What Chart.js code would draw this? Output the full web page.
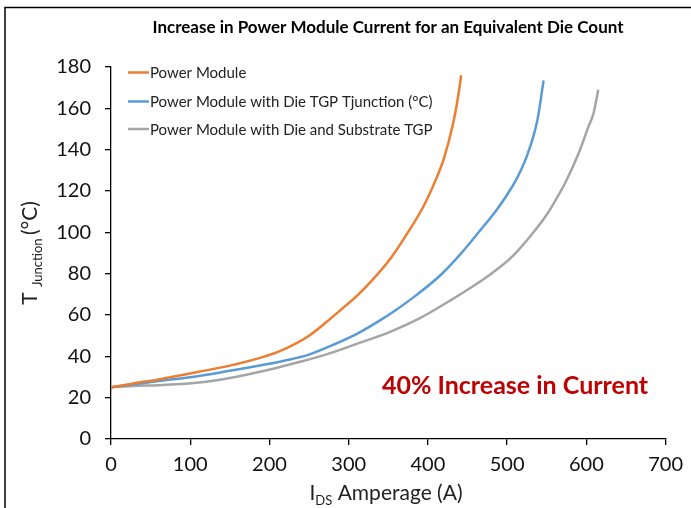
<!DOCTYPE html>
<html>
<head>
<meta charset="utf-8">
<script src="https://cdn.jsdelivr.net/npm/chart.js@4.4.0/dist/chart.umd.min.js"></script>
<style>
  body { margin: 0; background: #fff; }
  canvas { display: block; }
</style>
</head>
<body>
<canvas id="myChart" width="691" height="508"></canvas>
<script>
// chart data
const seriesNames = ['Power Module', 'Power Module with Die TGP Tjunction (°C)', 'Power Module with Die and Substrate TGP'];
const seriesColors = ['#ED7D31', '#5B9BD5', '#A5A5A5'];

const moduleAmps = [0, 30, 60, 111, 150, 186, 210, 230, 250, 270, 290, 311, 330, 353, 374, 395, 410, 420, 432, 438, 442];
const moduleTemp = [25, 27, 28.8, 32.5, 35.5, 39, 42, 45.5, 50, 56, 62.5, 69.5, 77, 87.5, 99.5, 113, 125.5, 135.5, 153, 165.5, 176];

const dieAmps = [0, 30, 60, 111, 150, 186, 220, 249, 280, 311, 340, 361, 385, 415, 440, 465, 485, 497, 510, 524, 538, 546];
const dieTemp = [25, 26.5, 28, 30.5, 33, 35.4, 38, 40.7, 45.5, 51, 57.5, 62.8, 69.5, 79, 89, 100.5, 110, 116.5, 124.5, 136, 154, 173.5];

const substrateAmps = [0, 28, 60, 111, 150, 199, 235, 270, 310, 353, 390, 415, 445, 480, 507, 530, 549, 561, 574, 590, 603, 609, 615];
const substrateTemp = [25, 25.7, 26, 27.3, 29.5, 33.5, 37, 40.7, 46, 52, 58.5, 64, 71, 80, 88.5, 98.5, 108, 115.5, 124.5, 138, 151.5, 157.5, 169];

const xTicks = [0, 100, 200, 300, 400, 500, 600, 700];
const yTicks = [0, 20, 40, 60, 80, 100, 120, 140, 160, 180];

const chartTitle = 'Increase in Power Module Current for an Equivalent Die Count';
const noteText = '40% Increase in Current';

function toPoints(xs, ys) {
  return xs.map(function(x, i) { return { x: x, y: ys[i] }; });
}

const pointSets = [
  toPoints(moduleAmps, moduleTemp),
  toPoints(dieAmps, dieTemp),
  toPoints(substrateAmps, substrateTemp)
];

const FONT = 'Lato, "Open Sans", sans-serif';

// title, legend, axis titles, note and frame
const extras = {
  id: 'extras',
  afterDraw(chart) {
    const c = chart.ctx;
    const area = chart.chartArea;
    c.save();

    // frame
    c.strokeStyle = '#000';
    c.lineWidth = 1.5;
    c.beginPath();
    c.moveTo(5, 520);
    c.lineTo(5, 7.5);
    c.lineTo(700, 7.5);
    c.stroke();

    // title
    c.fillStyle = '#000';
    c.font = 'bold 17px ' + FONT;
    c.textAlign = 'center';
    c.textBaseline = 'middle';
    c.fillText(chartTitle, 388, 28);

    // legend
    c.font = '15px ' + FONT;
    c.textAlign = 'left';
    const legendY = [72.5, 101.5, 129];
    seriesNames.forEach(function(name, i) {
      c.strokeStyle = seriesColors[i];
      c.lineWidth = 2.5;
      c.beginPath();
      c.moveTo(128, legendY[i]);
      c.lineTo(149, legendY[i]);
      c.stroke();
      c.fillStyle = '#222';
      c.fillText(name, 150, legendY[i] + 1);
    });

    // x axis title: I_DS Amperage (A)
    c.fillStyle = '#222';
    c.textBaseline = 'alphabetic';
    const big = '21px ' + FONT;
    const small = '13px ' + FONT;
    c.font = big;
    const wI = c.measureText('I').width;
    const wRest = c.measureText(' Amperage (A)').width;
    c.font = small;
    const wDS = c.measureText('DS').width;
    let x0 = 386 - (wI + wDS + wRest) / 2;
    const by = 500;
    c.font = big;
    c.fillText('I', x0, by);
    c.font = small;
    c.fillText('DS', x0 + wI, by + 5);
    c.font = big;
    c.fillText(' Amperage (A)', x0 + wI + wDS, by);

    // y axis title: T_Junction (°C)
    c.translate(37, (area.top + area.bottom) / 2);
    c.rotate(-Math.PI / 2);
    c.font = big;
    const wT = c.measureText('T ').width;
    const wC = c.measureText('(°C)').width;
    c.font = small;
    const wJ = c.measureText('Junction ').width;
    x0 = -(wT + wJ + wC) / 2;
    c.font = big;
    c.fillText('T ', x0, 0);
    c.font = small;
    c.fillText('Junction ', x0 + wT, 5);
    c.font = big;
    c.fillText('(°C)', x0 + wT + wJ, 0);
    c.restore();

    // note
    c.save();
    c.fillStyle = '#C00000';
    c.font = 'bold 25px ' + FONT;
    c.textAlign = 'center';
    c.textBaseline = 'middle';
    c.fillText(noteText, 515, 386);
    c.restore();
  }
};

const ctx = document.getElementById('myChart').getContext('2d');
const myChart = new Chart(ctx, {
  type: 'line',
  data: {
    datasets: seriesNames.map(function(name, i) {
      return {
        label: name,
        data: pointSets[i],
        borderColor: seriesColors[i],
        backgroundColor: seriesColors[i],
        borderWidth: 2.5,
        pointRadius: 0,
        cubicInterpolationMode: 'monotone',
        fill: false
      };
    })
  },
  options: {
    responsive: false,
    animation: false,
    layout: { padding: { top: 67, right: 20, left: 0, bottom: 0 } },
    plugins: {
      legend: { display: false },
      tooltip: { enabled: false }
    },
    scales: {
      x: {
        type: 'linear',
        min: 0,
        max: 700,
        afterBuildTicks: function(scale) { scale.ticks = xTicks.map(function(v) { return { value: v }; }); },
        afterFit: function(scale) { scale.height = 69; },
        ticks: { color: '#111', font: { family: FONT, size: 20 }, padding: 8, maxRotation: 0 },
        grid: { drawOnChartArea: false, drawTicks: true, tickLength: 6, color: '#000', lineWidth: 1.3 },
        border: { color: '#000', width: 1.3 }
      },
      y: {
        min: 0,
        max: 180,
        afterBuildTicks: function(scale) { scale.ticks = yTicks.map(function(v) { return { value: v }; }); },
        afterFit: function(scale) { scale.width = 111; },
        ticks: { color: '#111', font: { family: FONT, size: 20 }, padding: 14 },
        grid: { drawOnChartArea: false, drawTicks: true, tickLength: 6, color: '#000', lineWidth: 1.3 },
        border: { color: '#000', width: 1.3 }
      }
    }
  },
  plugins: [extras]
});
</script>
</body>
</html>
